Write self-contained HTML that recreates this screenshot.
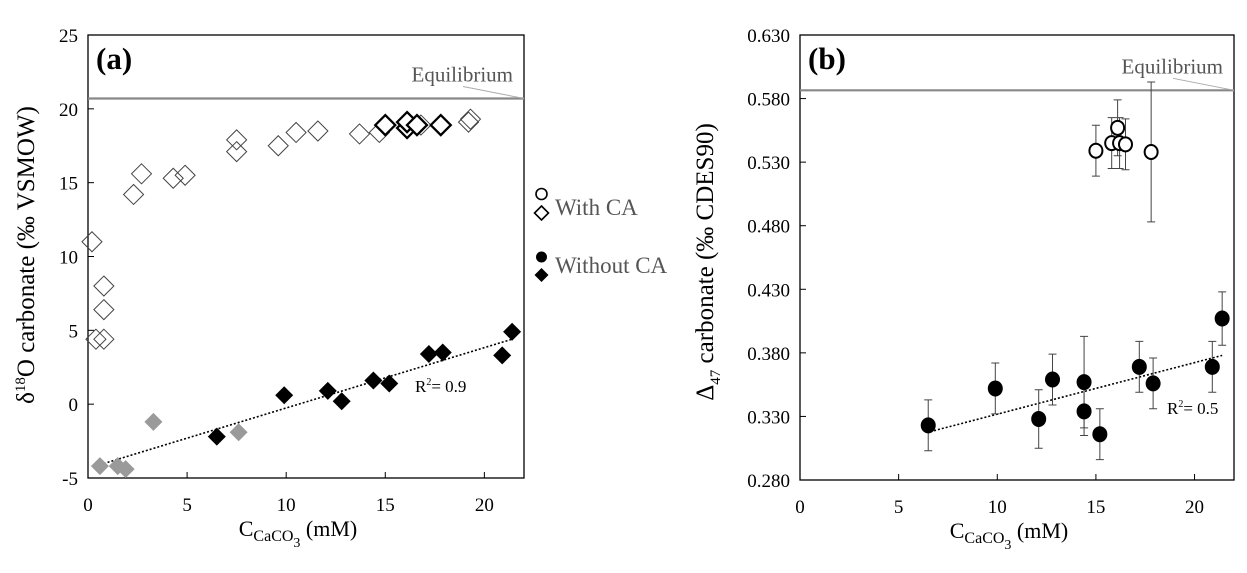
<!DOCTYPE html>
<html><head><meta charset="utf-8">
<style>
html,body{margin:0;padding:0;background:#fff;}
svg, svg text{font-family:"Liberation Serif","Times New Roman",serif;}
</style></head>
<body>
<svg id="chart" width="1247" height="568" viewBox="0 0 1247 568" xmlns="http://www.w3.org/2000/svg" font-family="'Liberation Serif', serif"></svg>
<script>
// ---- Panel (a) data ----
const aXTicks=[0,5,10,15,20];
const aYTicks=[-5,0,5,10,15,20,25];
const aOpenThinX=[0.2,0.4,0.8,0.8,0.8,2.3,2.7,4.3,4.9,7.5,7.5,9.6,10.5,11.6,13.7,14.7,16.8,19.2,19.3];
const aOpenThinY=[11,4.4,8,6.4,4.4,14.2,15.6,15.3,15.5,17.9,17.1,17.5,18.4,18.5,18.3,18.4,18.9,19.1,19.3];
const aOpenBoldX=[15,16.1,16.1,16.6,17.8];
const aOpenBoldY=[18.9,18.7,19.1,18.9,18.9];
const aBlackX=[6.5,9.9,12.1,12.8,14.4,15.2,17.2,17.9,20.9,21.4];
const aBlackY=[-2.2,0.6,0.9,0.2,1.6,1.4,3.4,3.5,3.3,4.9];
const aGrayX=[0.6,1.5,1.9,3.3,7.6];
const aGrayY=[-4.2,-4.2,-4.4,-1.2,-1.9];
const aTrendX=[0.6,21.4];
const aTrendY=[-4.1,4.4];
const aEquilibrium=20.7;
// ---- Panel (b) data ----
const bXTicks=[0,5,10,15,20];
const bYTicks=[0.280,0.330,0.380,0.430,0.480,0.530,0.580,0.630];
const bOpenX=[15,15.8,16.1,16.2,16.5,17.8];
const bOpenY=[0.539,0.545,0.557,0.545,0.544,0.538];
const bOpenErr=[0.020,0.020,0.022,0.020,0.020,0.055];
const bFillX=[6.5,9.9,12.1,12.8,14.4,14.4,15.2,17.2,17.9,20.9,21.4];
const bFillY=[0.323,0.352,0.328,0.359,0.357,0.334,0.316,0.369,0.356,0.369,0.407];
const bFillErr=[0.020,0.020,0.023,0.020,0.036,0.019,0.020,0.020,0.020,0.020,0.021];
const bTrendX=[6.6,21.4];
const bTrendY=[0.318,0.378];
const bEquilibrium=0.5865;

const NS="http://www.w3.org/2000/svg";
const svg=document.getElementById('chart');
function mk(tag,attrs,parent,text){const e=document.createElementNS(NS,tag);for(const k in attrs)e.setAttribute(k,attrs[k]);if(text!==undefined)e.textContent=text;(parent||svg).appendChild(e);return e;}

function panel(o){
  const g=mk('g',{});
  
  
  const sx=v=>o.x0+(v-o.xmin)/(o.xmax-o.xmin)*(o.x1-o.x0);
  const sy=v=>o.y1-(v-o.ymin)/(o.ymax-o.ymin)*(o.y1-o.y0);
  const box=mk('rect',{x:o.x0,y:o.y0,width:o.x1-o.x0,height:o.y1-o.y0,fill:'none',stroke:'#000','stroke-width':1.3},g);
  
  
  o.xt.forEach(v=>{
    mk('line',{x1:sx(v),x2:sx(v),y1:o.y1,y2:o.y1-6,stroke:'#000'},g);
    const t=mk('text',{x:sx(v),y:o.y1+33,'text-anchor':'middle','font-size':19},g,String(v));
    
    
  });
  o.yt.forEach(v=>{
    mk('line',{x1:o.x0,x2:o.x0+6,y1:sy(v),y2:sy(v),stroke:'#000'},g);
    const t=mk('text',{x:o.x0-10,y:sy(v)+7,'text-anchor':'end','font-size':19},g,o.fmt(v));
    
    
  });
  const eq=mk('line',{x1:o.x0,x2:o.x1,y1:sy(o.eq),y2:sy(o.eq),stroke:'#888','stroke-width':2.2},g);
  
  
  mk('line',{x1:o.x1-61,y1:sy(o.eq)-12,x2:o.x1,y2:sy(o.eq),stroke:'#aaa','stroke-width':1},g);
  const et=mk('text',{x:o.x1-11,y:sy(o.eq)-17,'text-anchor':'end','font-size':21,fill:'#555'},g,'Equilibrium');
  
  
  const lab=mk('text',{x:o.x0+8,y:o.y0+34,'font-size':31,'font-weight':'bold'},g,o.label);
  
  
  const xt=mk('text',{x:(o.x0+o.x1)/2-8,y:o.y1+58,'text-anchor':'middle','font-size':22},g);
  
  
  mk('tspan',{},xt,'C');
  mk('tspan',{'font-size':16,dy:5},xt,'CaCO');
  mk('tspan',{'font-size':14,dy:6},xt,'3');
  mk('tspan',{dy:-11},xt,' (mM)');
  return {g,sx,sy};
}
function diamond(g,x,y,r,fill,stroke,sw,name){
  const p=mk('polygon',{points:`${x},${y-r} ${x+r},${y} ${x},${y+r} ${x-r},${y}`,fill,stroke,'stroke-width':sw},g);
  
  
}
function trend(g,P,X,Y,name){
  const l=mk('line',{x1:P.sx(X[0]),y1:P.sy(Y[0]),x2:P.sx(X[1]),y2:P.sy(Y[1]),stroke:'#000','stroke-width':1.6,'stroke-dasharray':'2,2'},g);
  
  
}

// Panel a
const A=panel({name:'panel-a',x0:88,x1:524,y0:35,y1:478,xmin:0,xmax:22,ymin:-5,ymax:25,xt:aXTicks,yt:aYTicks,fmt:v=>String(v),eq:aEquilibrium,label:'(a)'});
trend(A.g,A,aTrendX,aTrendY,'trend-line-a');
aOpenThinX.forEach((x,i)=>diamond(A.g,A.sx(x),A.sy(aOpenThinY[i]),10,'none','#444',1,'point-with-ca'));
aOpenBoldX.forEach((x,i)=>diamond(A.g,A.sx(x),A.sy(aOpenBoldY[i]),10,'#fff','#000',2.3,'point-with-ca-bold'));
aGrayX.forEach((x,i)=>diamond(A.g,A.sx(x),A.sy(aGrayY[i]),9,'#9a9a9a','none',0,'point-without-ca-gray'));
aBlackX.forEach((x,i)=>diamond(A.g,A.sx(x),A.sy(aBlackY[i]),9,'#000','none',0,'point-without-ca'));
const r2a=mk('text',{x:415,y:392,'font-size':17},A.g);


mk('tspan',{},r2a,'R');mk('tspan',{'font-size':10,dy:-7},r2a,'2');mk('tspan',{dy:7},r2a,'= 0.9');
const ay=mk('text',{transform:'translate(34,255) rotate(-90)','text-anchor':'middle','font-size':25},A.g);


mk('tspan',{},ay,'δ');mk('tspan',{'font-size':15,dy:-9},ay,'18');mk('tspan',{dy:9},ay,'O carbonate (‰ VSMOW)');

// Legend
const lg=mk('g',{});


mk('circle',{cx:541.5,cy:194,r:5.5,fill:'#fff',stroke:'#000','stroke-width':1.6},lg);
diamond(lg,541.5,213,7,'#fff','#000',1.6,'legend-marker-with-ca');
const l1=mk('text',{x:555,y:215,'font-size':23,fill:'#555'},lg,'With CA');


mk('circle',{cx:541.5,cy:257,r:5.5,fill:'#000'},lg);
diamond(lg,541.5,275,7,'#000','none',0,'legend-marker-without-ca');
const l2=mk('text',{x:555,y:273,'font-size':23,fill:'#555'},lg,'Without CA');



// Panel b
const B=panel({name:'panel-b',x0:800,x1:1234,y0:35,y1:480,xmin:0,xmax:22,ymin:0.28,ymax:0.63,xt:bXTicks,yt:bYTicks,fmt:v=>v.toFixed(3),eq:bEquilibrium,label:'(b)'});
trend(B.g,B,bTrendX,bTrendY,'trend-line-b');
function errPts(X,Y,E,fill,stroke,name){
  X.forEach((x,i)=>{
    const cx=B.sx(x),cy=B.sy(Y[i]),t=B.sy(Y[i]+E[i]),b=B.sy(Y[i]-E[i]);
    const eb=mk('path',{d:`M${cx},${t}V${b}M${cx-4},${t}H${cx+4}M${cx-4},${b}H${cx+4}`,stroke:'#444','stroke-width':1,fill:'none'},B.g);
    
    
  });
  X.forEach((x,i)=>{
    const c=mk('ellipse',{cx:B.sx(x),cy:B.sy(Y[i]),rx:6.5,ry:7,fill,stroke,'stroke-width':2},B.g);
    
    
  });
}
errPts(bFillX,bFillY,bFillErr,'#000','#000','point-without-ca');
errPts(bOpenX,bOpenY,bOpenErr,'#fff','#000','point-with-ca');
const r2b=mk('text',{x:1167,y:414,'font-size':17},B.g);


mk('tspan',{},r2b,'R');mk('tspan',{'font-size':10,dy:-7},r2b,'2');mk('tspan',{dy:7},r2b,'= 0.5');
const by=mk('text',{transform:'translate(713,262) rotate(-90)','text-anchor':'middle','font-size':25},B.g);


mk('tspan',{},by,'Δ');mk('tspan',{'font-size':15,dy:7},by,'47');mk('tspan',{dy:-7},by,' carbonate (‰ CDES90)');
</script>
</body></html>
